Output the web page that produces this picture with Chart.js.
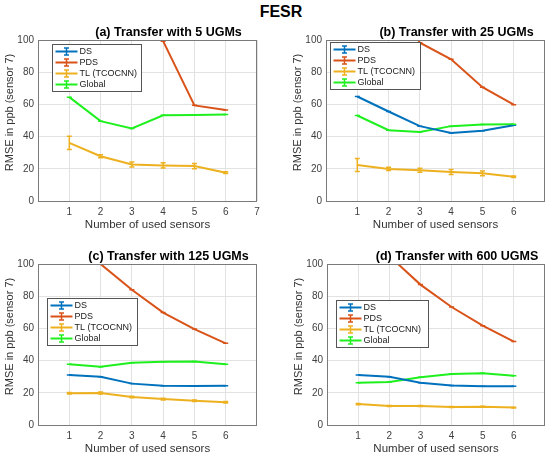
<!DOCTYPE html>
<html>
<head>
<meta charset="utf-8">
<script src="https://cdn.jsdelivr.net/npm/chart.js@4.4.0/dist/chart.umd.min.js"></script>
<style>
  body { margin: 0; background: #fff; }
  #wrap { position: relative; width: 550px; height: 458px; font-family: "Liberation Sans", Arial, sans-serif; }
  #main-title { position: absolute; left: 0; top: 3px; width: 562px; text-align: center; font-weight: bold; font-size: 16px; color: #000; }
  .panel { position: absolute; width: 275px; height: 214px; }
</style>
</head>
<body>
<div id="wrap">
  <div id="main-title">FESR</div>
  <div class="panel" style="left:0;top:20px"><canvas id="chart-a"></canvas></div>
  <div class="panel" style="left:275px;top:20px"><canvas id="chart-b"></canvas></div>
  <div class="panel" style="left:0;top:244px"><canvas id="chart-c"></canvas></div>
  <div class="panel" style="left:275px;top:244px"><canvas id="chart-d"></canvas></div>
</div>
<script>
// Dados
const sensors = [1, 2, 3, 4, 5, 6];
const xTicksA = [1, 2, 3, 4, 5, 6, 7];
const xTicksOther = [1, 2, 3, 4, 5, 6];
const seriesNames = ['DS', 'PDS', 'TL (TCOCNN)', 'Global'];

// (a) 5 UGMs (DS fica acima de 100, fora do gráfico)
const dsA = [null, null, null, null, null, null];
const pdsA = [180, 160, 140, 99.3, 59.4, 56.5];
const tlA = [36.1, 27.8, 22.7, 22.1, 21.7, 17.6];
const tlErrA = [4.1, 0.9, 1.6, 1.6, 1.6, 0.5];
const globalA = [64.5, 49.6, 45.1, 53.2, 53.4, 53.8];

// (b) 25 UGMs
const dsB = [64.9, 55.6, 46.5, 42.3, 43.6, 47.1];
const pdsB = [160, 130, 98.3, 88.0, 70.7, 59.8];
const tlB = [22.4, 19.9, 19.1, 18.0, 17.2, 15.1];
const tlErrB = [4.0, 1.0, 1.2, 1.5, 1.5, 0.5];
const globalB = [53.1, 44.0, 42.9, 46.5, 47.5, 47.7];

// (c) 125 UGMs
const dsC = [31.1, 30.0, 25.7, 24.4, 24.2, 24.4];
const pdsC = [130, 100, 84.0, 69.8, 59.6, 50.7];
const tlC = [19.7, 19.9, 17.4, 16.1, 15.1, 14.1];
const tlErrC = [0.5, 0.6, 0.5, 0.5, 0.5, 0.5];
const globalC = [37.7, 36.2, 38.7, 39.3, 39.5, 37.7];

// (d) 600 UGMS
const dsD = [31.1, 30.0, 26.3, 24.6, 24.0, 24.0];
const pdsD = [125, 105, 87.2, 73.3, 61.7, 51.8];
const tlD = [13.0, 11.8, 11.8, 11.2, 11.4, 10.8];
const tlErrD = [0.4, 0.3, 0.3, 0.3, 0.3, 0.3];
const globalD = [26.3, 26.7, 29.6, 31.7, 32.1, 30.6];

const colors = ['#0072BD', '#D95319', '#EDB120', '#1EF01E'];
const FONT = '"Liberation Sans", Arial, sans-serif';
const Y_TITLE = 'RMSE in ppb (sensor 7)';

// Barras de erro, caixa dos eixos, títulos e legenda de cada painel
const panelDecor = {
    id: 'panelDecor',
    afterDatasetsDraw(chart) {
        const { ctx, chartArea: a, scales: { x, y } } = chart;
        ctx.save();
        ctx.beginPath();
        ctx.rect(a.left, a.top, a.right - a.left, a.bottom - a.top);
        ctx.clip();
        chart.data.datasets.forEach(ds => {
            const errs = ds.errors || [];
            ctx.strokeStyle = ds.borderColor;
            ctx.lineWidth = 1.5;
            ds.data.forEach((p, j) => {
                if (p.y == null) return;
                const e = errs[j] || 0;
                const px = x.getPixelForValue(p.x);
                const top = y.getPixelForValue(p.y + e);
                const bot = y.getPixelForValue(p.y - e);
                ctx.beginPath();
                ctx.moveTo(px, top); ctx.lineTo(px, bot);
                ctx.moveTo(px - 2.5, top); ctx.lineTo(px + 2.5, top);
                ctx.moveTo(px - 2.5, bot); ctx.lineTo(px + 2.5, bot);
                ctx.stroke();
            });
        });
        ctx.restore();
    },
    afterDraw(chart, args, opts) {
        const { ctx, chartArea: a } = chart;
        ctx.save();
        // caixa dos eixos
        ctx.strokeStyle = '#7a7a7a';
        ctx.lineWidth = 1;
        ctx.strokeRect(Math.round(a.left) + 0.5, Math.round(a.top) + 0.5,
            Math.round(a.right - a.left) - 1, Math.round(a.bottom - a.top));

        // título do eixo y (um pouco acima do centro, como no original)
        ctx.save();
        ctx.translate(a.left - 28, (a.top + a.bottom) / 2 - 8);
        ctx.rotate(-Math.PI / 2);
        ctx.fillStyle = '#333';
        ctx.font = '11px ' + FONT;
        ctx.textAlign = 'center';
        ctx.textBaseline = 'middle';
        ctx.fillText(Y_TITLE, 0, 0);
        ctx.restore();

        // título do painel
        ctx.fillStyle = '#000';
        ctx.font = 'bold 12.5px ' + FONT;
        ctx.textAlign = 'center';
        ctx.textBaseline = 'middle';
        ctx.fillText(opts.title, (a.left + a.right) / 2 + 21, a.top - 7);

        // legenda
        ctx.font = '9px ' + FONT;
        const labels = chart.data.datasets.map(d => d.label);
        const maxW = Math.max(...labels.map(l => ctx.measureText(l).width));
        const lx = Math.round(a.left + opts.legendDx) + 0.5;
        const ly = Math.round(a.top + opts.legendDy) + 0.5;
        const w = Math.round(27 + maxW + opts.legendPad);
        const h = 47;
        ctx.fillStyle = '#fff';
        ctx.fillRect(lx, ly, w, h);
        ctx.strokeStyle = '#555';
        ctx.strokeRect(lx, ly, w, h);
        ctx.textAlign = 'left';
        chart.data.datasets.forEach((ds, i) => {
            const ry = ly + 7 + i * 11;
            const cx = lx + 14;
            ctx.strokeStyle = ds.borderColor;
            ctx.lineWidth = 2;
            ctx.beginPath();
            ctx.moveTo(lx + 3, ry); ctx.lineTo(lx + 25, ry);
            ctx.stroke();
            ctx.lineWidth = 1.5;
            ctx.beginPath();
            ctx.moveTo(cx, ry - 3.5); ctx.lineTo(cx, ry + 3.5);
            ctx.moveTo(cx - 2.5, ry - 3.5); ctx.lineTo(cx + 2.5, ry - 3.5);
            ctx.moveTo(cx - 2.5, ry + 3.5); ctx.lineTo(cx + 2.5, ry + 3.5);
            ctx.stroke();
            ctx.fillStyle = '#1a1a1a';
            ctx.fillText(ds.label, lx + 27, ry + 0.5);
        });
        ctx.restore();
    }
};

function makeDatasets(ds, pds, tl, tlErr, glob) {
    const rows = [ds, pds, tl, glob];
    return rows.map((vals, i) => ({
        label: seriesNames[i],
        data: sensors.map((s, j) => ({ x: s, y: vals[j] })),
        errors: i === 2 ? tlErr : null,
        borderColor: colors[i],
        backgroundColor: colors[i],
        borderWidth: 2,
        pointRadius: 0,
        tension: 0,
        spanGaps: false,
        clip: 0
    }));
}

function generatePanel(id, title, xTicks, datasets, padLeft, padRight, legendDx, legendDy, legendPad) {
    const config = {
        type: 'line',
        data: { datasets: datasets },
        options: {
            responsive: true,
            maintainAspectRatio: false,
            animation: false,
            layout: { padding: { top: 20, left: padLeft, right: padRight, bottom: 0 } },
            plugins: {
                legend: { display: false },
                tooltip: { enabled: false },
                panelDecor: { title: title, legendDx: legendDx, legendDy: legendDy, legendPad: legendPad }
            },
            scales: {
                x: {
                    type: 'linear',
                    min: 0,
                    max: 7,
                    afterBuildTicks: s => { s.ticks = xTicks.map(v => ({ value: v })); },
                    afterFit: s => { s.height = 33; },
                    grid: { color: '#e2e2e2', drawTicks: false },
                    border: { display: false },
                    ticks: { color: '#404040', font: { family: FONT, size: 10 }, padding: 5 },
                    title: {
                        display: true,
                        text: 'Number of used sensors',
                        color: '#333',
                        font: { family: FONT, size: 11.5 },
                        padding: { top: 0, bottom: 2 }
                    }
                },
                y: {
                    min: 0,
                    max: 100,
                    afterFit: s => { s.width = 38; },
                    grid: { color: '#e2e2e2', drawTicks: false },
                    border: { display: false },
                    ticks: { stepSize: 20, color: '#404040', font: { family: FONT, size: 10 }, padding: 4 }
                }
            }
        },
        plugins: [panelDecor]
    };
    new Chart(document.getElementById(id), config);
}

generatePanel('chart-a', '(a) Transfer with 5 UGMs', xTicksA,
    makeDatasets(dsA, pdsA, tlA, tlErrA, globalA), 0, 18, 14, 4, 5);
generatePanel('chart-b', '(b) Transfer with 25 UGMs', xTicksOther,
    makeDatasets(dsB, pdsB, tlB, tlErrB, globalB), 13, 5, 4, 2, 6);
generatePanel('chart-c', '(c) Transfer with 125 UGMs', xTicksOther,
    makeDatasets(dsC, pdsC, tlC, tlErrC, globalC), 0, 18, 9, 34, 6);
generatePanel('chart-d', '(d) Transfer with 600 UGMS', xTicksOther,
    makeDatasets(dsD, pdsD, tlD, tlErrD, globalD), 14, 5, 9, 36, 8);
</script>
</body>
</html>
